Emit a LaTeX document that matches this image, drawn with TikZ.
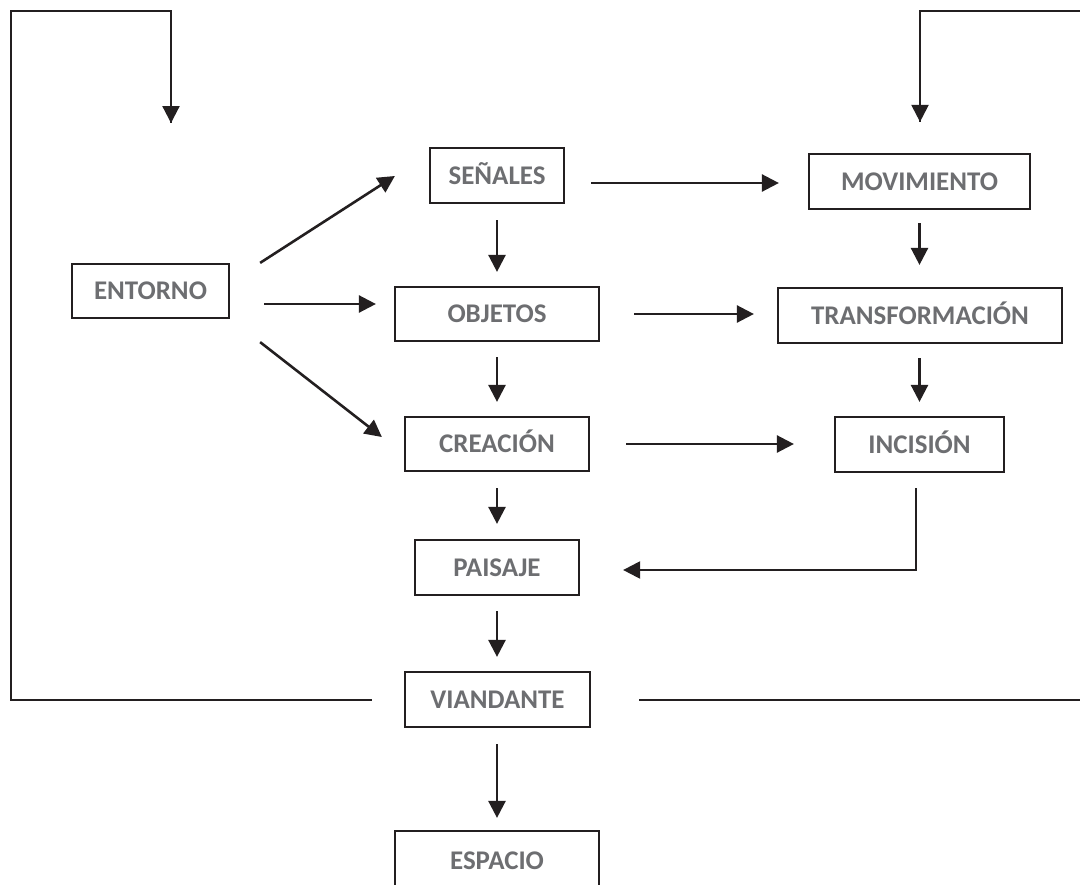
\documentclass[tikz,border=0pt]{standalone}
\usepackage{fontspec}
\setmainfont{Carlito}
\usetikzlibrary{arrows.meta,calc}
\definecolor{txtgray}{RGB}{109,110,113}
\definecolor{ink}{RGB}{35,31,32}
\tikzset{
  box/.style={draw=ink, line width=1.9pt, inner sep=0pt, text=txtgray,
    font=\fontsize{23pt}{26pt}\selectfont\bfseries,
    text height=14.8pt, text depth=0pt, minimum height=55*0.03cm},
  conn/.style={draw=ink, line width=2.2pt, -{Triangle[length=14.5pt,width=14.5pt]}},
  loopline/.style={draw=ink, line width=1.9pt}
}
\begin{document}
\begin{tikzpicture}[x=0.03cm,y=-0.03cm]
\clip (0,0) rectangle (1080,884);
\fill[white] (0,0) rectangle (1080,884);
% nodes
\node[box, minimum width=157*0.03cm, minimum height=54*0.03cm] (ent) at (150.5,291) {ENTORNO};
\node[box, minimum width=134*0.03cm] (sen) at (497,175.5) {SEÑALES};
\node[box, minimum width=221*0.03cm] (mov) at (919.5,181.5) {MOVIMIENTO};
\node[box, minimum width=204*0.03cm, minimum height=54*0.03cm] (obj) at (497,314) {OBJETOS};
\node[box, minimum width=284*0.03cm] (tra) at (920,315.5) {TRANSFORMACIÓN};
\node[box, minimum width=184*0.03cm, minimum height=54*0.03cm] (cre) at (497,444) {CREACIÓN};
\node[box, minimum width=169*0.03cm] (inc) at (919.5,444.5) {INCISIÓN};
\node[box, minimum width=164*0.03cm] (pai) at (497,567.5) {PAISAJE};
\node[box, minimum width=185*0.03cm] (via) at (497.5,699.5) {VIANDANTE};
\node[box, minimum width=204*0.03cm, minimum height=60*0.03cm] (esp) at (497,861) {ESPACIO};
% connectors
\draw[conn] ($(ent.north east)+(30,0)$) -- ($(sen.west)+(-34,0.5)$);
\draw[conn] ($(ent.east)+(34,13)$) -- ($(obj.west)+(-18,-10)$);
\draw[conn] ($(ent.south east)+(30,23)$) -- ($(cre.west)+(-22,-7)$);
\draw[conn] ($(sen.east)+(26,7.5)$) -- ($(mov.west)+(-29,1.5)$);
\draw[conn] ($(sen.south)+(0,16)$) -- ($(obj.north)+(0,-14)$);
\draw[conn] ($(mov.south)+(0,13)$) -- ($(tra.north)+(-0.5,-22)$);
\draw[conn] ($(obj.east)+(34,0)$) -- ($(tra.west)+(-23,-1.5)$);
\draw[conn] ($(obj.south)+(0,15)$) -- ($(cre.north)+(0,-14)$);
\draw[conn] ($(tra.south)+(-0.5,14)$) -- ($(inc.north)+(0,-14)$);
\draw[conn] ($(cre.east)+(36,0)$) -- ($(inc.west)+(-40,-0.5)$);
\draw[conn] ($(cre.south)+(0,16)$) -- ($(pai.north)+(0,-15)$);
\draw[conn, line width=1.9pt] ($(inc.south)+(-3.5,15)$) |- ($(pai.east)+(43,2.5)$);
\draw[conn] ($(pai.south)+(0,15)$) -- ($(via.north)+(-0.5,-14)$);
\draw[conn] ($(via.south)+(-0.5,16)$) -- ($(esp.north)+(0,-12)$);
% feedback loops
\coordinate (ltop) at (11,11);
\coordinate (lend) at (171,123);
\coordinate (rtop) at (1090,11);
\draw[loopline] ($(via.west)+(-32,0.5)$) -| (ltop) -| (lend);
\draw[conn, line width=1.9pt] (lend |- ltop) -- (lend);
\draw[loopline] ($(via.east)+(48,0.5)$) -| (rtop) -| ($(mov.north)+(0.5,-31)$);
\draw[conn, line width=1.9pt] ($(mov.north)+(0.5,-100)$) -- ($(mov.north)+(0.5,-31)$);
\end{tikzpicture}
\end{document}
